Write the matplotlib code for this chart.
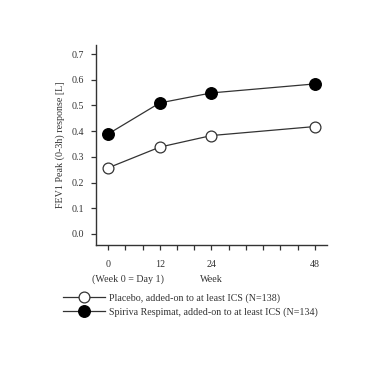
import matplotlib
matplotlib.use("Agg")
import matplotlib.pyplot as plt

weeks = [0, 12, 24, 48]
placebo = [0.257, 0.338, 0.383, 0.418]
spiriva = [0.389, 0.510, 0.549, 0.584]
labels = ["Placebo, added-on to at least ICS (N=138)",
          "Spiriva Respimat, added-on to at least ICS (N=134)"]

plt.rcParams['font.family'] = ['Liberation Serif', 'DejaVu Serif']
ink = '#333333'
fs = 7.2

fig = plt.figure(figsize=(3.83, 3.70), dpi=100)
ax = fig.add_axes([0.2507, 0.338, 0.603, 0.54])

ax.plot(weeks, placebo, '-o', color=ink, lw=0.9, ms=7.8, mfc='white', mec=ink, mew=0.9, label=labels[0])
ax.plot(weeks, spiriva, '-o', color=ink, lw=0.9, ms=8.3, mfc='black', mec='black', label=labels[1])

ax.set_xlim(-2.8, 50.8)
ax.set_ylim(-0.043, 0.735)
ax.set_xticks(range(0, 49, 4), minor=True)
ax.set_xticks(weeks)
ax.set_yticks([i / 10 for i in range(8)])
ax.set_yticklabels(["%.1f" % (i / 10) for i in range(8)])
for s in ['top', 'right']:
    ax.spines[s].set_visible(False)
for s in ['left', 'bottom']:
    ax.spines[s].set_color(ink)
    ax.spines[s].set_linewidth(1.0)
ax.tick_params(which='both', direction='out', length=3.5, width=0.9, colors=ink, labelsize=fs, pad=5)
ax.tick_params(axis='x', which='major', pad=7)
ax.set_ylabel("FEV1 Peak (0-3h) response [L]", fontsize=fs, color=ink, labelpad=5)

fig.text(0.24, 0.245, "(Week 0 = Day 1)", fontsize=fs, color=ink, va='center')
fig.text(0.522, 0.245, "Week", fontsize=fs, color=ink, va='center')

fig.legend(loc='upper left', bbox_to_anchor=(0.155, 0.218), frameon=False, fontsize=fs,
           handlelength=4.2, handletextpad=0.4, labelspacing=0.45, borderaxespad=0, labelcolor=ink)

fig.savefig("out.png", dpi=100)
